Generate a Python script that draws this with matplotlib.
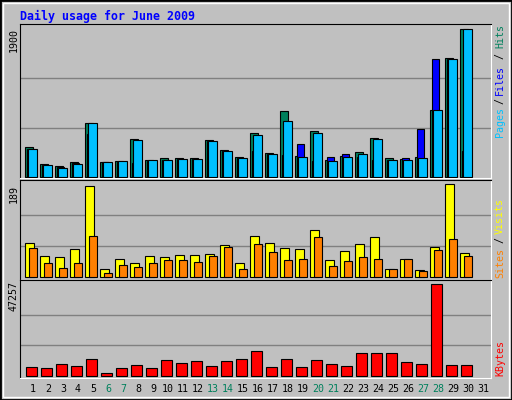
import matplotlib
matplotlib.use("Agg")
import matplotlib.pyplot as plt
from matplotlib.patches import Rectangle
import numpy as np

# ── Data ─────────────────────────────────────────────────────────────────────
days = list(range(1, 31))
hits = [383, 172, 146, 198, 701, 198, 211, 494, 224, 249, 249, 249, 481, 352, 262,
        572, 314, 843, 275, 598, 224, 275, 327, 507, 249, 236, 262, 868, 1526, 1900]
files = [366, 159, 133, 185, 559, 198, 198, 185, 211, 224, 237, 237, 470, 340, 250,
         340, 301, 288, 430, 211, 262, 301, 262, 224, 224, 250, 624, 1512, 1512, 340]
pages = [366, 159, 120, 172, 701, 198, 211, 482, 224, 224, 237, 237, 470, 340, 250,
         546, 301, 726, 262, 572, 211, 262, 301, 495, 224, 224, 250, 858, 1513, 1900]
visits = [68, 42, 40, 56, 185, 15, 37, 29, 42, 40, 44, 44, 46, 64, 29,
          84, 68, 58, 56, 95, 35, 52, 66, 82, 15, 37, 13, 60, 189, 48]
sites = [58, 29, 17, 29, 84, 8, 23, 19, 29, 35, 35, 31, 42, 60, 15,
         66, 50, 35, 37, 82, 21, 33, 40, 37, 15, 37, 11, 54, 78, 42]
kbytes = [4300, 3800, 5900, 4800, 8500, 1200, 3800, 5400, 3800, 8000, 6400, 7400,
          4800, 7400, 8500, 12700, 4300, 8500, 4300, 8000, 5900, 4800, 11600, 11600,
          11600, 6900, 5900, 47257, 5400, 5400]
xlabels = [str(d) for d in range(1, 32)]
weekend = {6, 7, 13, 14, 20, 21, 27, 28}

BG = "#c0c0c0"
C_HITS, C_FILES, C_PAGES = "#00805c", "#0000ff", "#00c0ff"
C_VISITS, C_SITES, C_KB = "#ffff00", "#ff8000", "#ff0000"
GRID = "#808080"
FONT = "DejaVu Sans Mono"

W, H = 512, 400
fig = plt.figure(figsize=(W / 100, H / 100), dpi=100)
fig.patch.set_facecolor(BG)

# outer frame / bevel
fig.add_artist(Rectangle((0, 0), 1, 1, transform=fig.transFigure, fill=False,
                         ec="black", lw=2))
fig.add_artist(Rectangle((3 / W, 3 / H), 1 - 6 / W, 1 - 6 / H,
                         transform=fig.transFigure, fill=False, ec="white", lw=1))

def px_axes(x0, y0, x1, y1):
    return fig.add_axes([x0 / W, 1 - y1 / H, (x1 - x0) / W, (y1 - y0) / H])

x = np.arange(len(days))
XL = (-1 / 3, 471 / 15 - 1 / 3)

def style(ax, top, ymax, bottom=0.0):
    ax.set_facecolor(BG)
    ax.set_xlim(*XL)
    ax.set_ylim(-bottom * ymax, top * ymax)
    ax.set_xticks([]); ax.set_yticks([])
    for y in (ymax / 3, 2 * ymax / 3):
        ax.axhline(y, color=GRID, lw=1, zorder=1)
    for s in ("top", "left"):
        ax.spines[s].set_color("black")
    for s in ("right", "bottom"):
        ax.spines[s].set_color("white")

kw = dict(align="edge", edgecolor="black", linewidth=0.8, zorder=3)

# top panel: hits / files / pages
ax1 = px_axes(20, 24, 491, 178)
style(ax1, 1.034, 1900, 0.005)
ax1.bar(x, hits, width=0.5, color=C_HITS, **kw)
ax1.bar(x + 0.1, files, width=0.5, color=C_FILES, **kw)
ax1.bar(x + 0.17, pages, width=0.62, color=C_PAGES, **kw)

# middle panel: visits / sites
ax2 = px_axes(20, 180, 491, 280)
style(ax2, 1.047, 189, 0.036)
ax2.bar(x, visits, width=0.58, color=C_VISITS, **kw)
ax2.bar(x + 0.29, sites, width=0.49, color=C_SITES, **kw)

# bottom panel: kbytes
ax3 = px_axes(20, 280, 491, 378)
style(ax3, 1.047, 47257, 0.025)
ax3.bar(x + 0.07, kbytes, width=0.71, color=C_KB, **kw)

# day labels
for i, lab in enumerate(xlabels):
    d = i + 1
    ax3.text(i + 0.53, -0.06, lab, transform=ax3.get_xaxis_transform(),
             ha="center", va="top", fontsize=7.2, family=FONT,
             color=C_HITS if d in weekend else "black")

def ftext(px, py, s, color="black", rot=90, **k):
    fig.text(px / W, 1 - py / H, s, rotation=rot, ha="center", va="center",
             fontsize=7.2, family=FONT, color=color, **k)

# title
fig.text(20 / W, 1 - 16 / H, "Daily usage for June 2009", ha="left", va="center",
         fontsize=8.4, family=FONT, weight="bold", color="#0000ff")

# y max labels
ftext(14, 40, "1900")
ftext(14, 194, "189")
ftext(14, 296, "47257")

# right-hand legends
ftext(500, 36, "Hits", C_HITS)
ftext(500, 56, "/")
ftext(500, 80, "Files", C_FILES)
ftext(500, 101, "/")
ftext(500, 122, "Pages", C_PAGES)
ftext(500, 216, "Visits", C_VISITS)
ftext(500, 240, "/")
ftext(500, 263, "Sites", C_SITES)
ftext(500, 358, "KBytes", C_KB)

fig.savefig("out.png", dpi=100, facecolor=BG)
